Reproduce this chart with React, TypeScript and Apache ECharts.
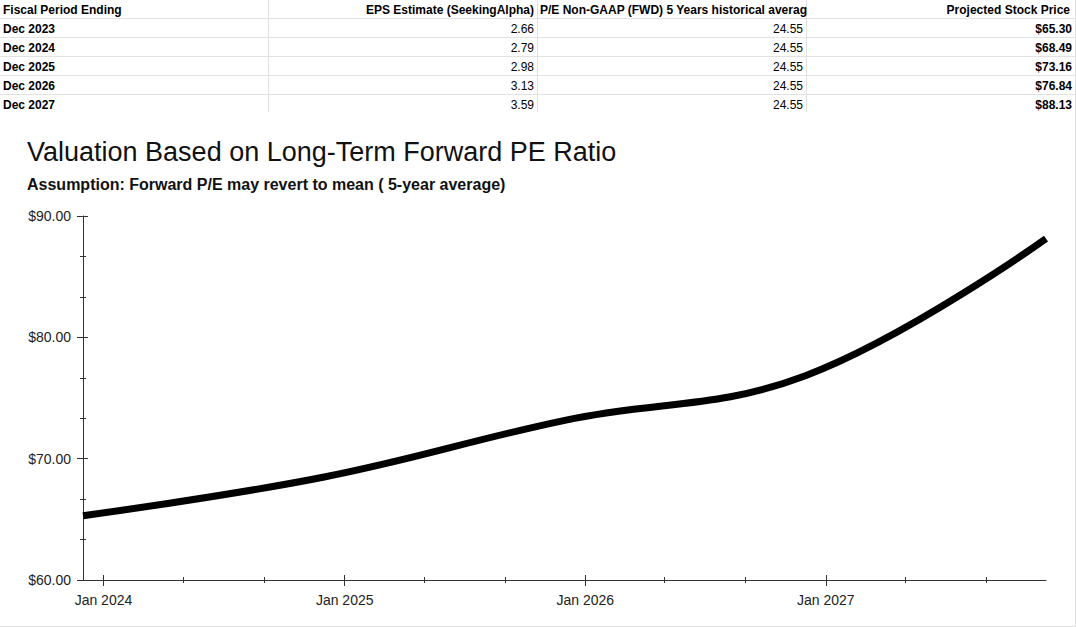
import React, { useEffect, useRef } from "react";
import * as echarts from "echarts";

const tableHeaders = [
  "Fiscal Period Ending",
  "EPS Estimate (SeekingAlpha)",
  "P/E Non-GAAP (FWD) 5 Years historical averag",
  "Projected Stock Price",
];
const periods = ["Dec 2023", "Dec 2024", "Dec 2025", "Dec 2026", "Dec 2027"];
const epsEstimates = [2.66, 2.79, 2.98, 3.13, 3.59];
const peAverages = [24.55, 24.55, 24.55, 24.55, 24.55];
const projectedPrices = [65.3, 68.49, 73.16, 76.84, 88.13];

const xMajorTicks = ["Jan 2024", "Jan 2025", "Jan 2026", "Jan 2027"];
const xMinorTicks = [
  "May 2024", "Sep 2024", "May 2025", "Sep 2025",
  "May 2026", "Sep 2026", "May 2027", "Sep 2027",
];
const yMin = 60;
const yMax = 90;
const yInterval = 10;

const chartTitle = "Valuation Based on Long-Term Forward PE Ratio";
const chartSubtitle = "Assumption: Forward P/E may revert to mean ( 5-year average)";

const MONTHS = ["Jan", "Feb", "Mar", "Apr", "May", "Jun", "Jul", "Aug", "Sep", "Oct", "Nov", "Dec"];
function toTime(label: string): number {
  const [m, y] = label.split(" ");
  return Date.UTC(Number(y), MONTHS.indexOf(m), 1);
}
function fmtTime(v: number): string {
  const d = new Date(v);
  return MONTHS[d.getUTCMonth()] + " " + d.getUTCFullYear();
}

const FONT = "'Liberation Sans', Arial, sans-serif";

export default function App() {
  const ref = useRef<HTMLDivElement>(null);
  useEffect(() => {
    document.body.style.margin = "0";
    const chart = echarts.init(ref.current!, null, { renderer: "svg", width: 1076, height: 627 });

    const tMin = toTime(periods[0]);
    const tMax = toTime(periods[periods.length - 1]);
    const majorVals = xMajorTicks.map(toTime);
    const minorVals = xMinorTicks.map(toTime);

    const colEdges = [0, 268.5, 537.5, 806.5, 1075.5];
    const rowH = 19;
    const graphics: any[] = [];
    for (let r = 1; r <= 5; r++) {
      const y = r * rowH - 0.5;
      graphics.push({ type: "line", shape: { x1: 0, y1: y, x2: 1076, y2: y }, style: { stroke: "#e2e2e2", lineWidth: 1 }, silent: true });
    }
    for (let c = 1; c < colEdges.length; c++) {
      graphics.push({ type: "line", shape: { x1: colEdges[c], y1: 0, x2: colEdges[c], y2: 627 }, style: { stroke: "#e0e0e0", lineWidth: 1 }, silent: true, z: -1 });
    }
    graphics.push({ type: "rect", shape: { x: 0, y: 112, width: 1075, height: 514 }, style: { fill: "#fff" }, silent: true, z: 0 });
    graphics.push({ type: "line", shape: { x1: 0, y1: 626.5, x2: 1076, y2: 626.5 }, style: { stroke: "#e0e0e0", lineWidth: 1 }, silent: true });

    const cellText = (text: string, x: number, y: number, align: string, bold: boolean) => ({
      type: "text",
      x,
      y,
      silent: true,
      z: -1,
      style: {
        text,
        font: (bold ? "bold " : "") + "12px " + FONT,
        fill: "#000",
        textAlign: align,
        textVerticalAlign: "middle",
      },
    });
    const rowCenter = (r: number) => r * rowH + 10;
    graphics.push(cellText(tableHeaders[0], 3, rowCenter(0), "left", true));
    graphics.push(cellText(tableHeaders[1], 534, rowCenter(0), "right", true));
    graphics.push(cellText(tableHeaders[2], 540, rowCenter(0), "left", true));
    graphics.push(cellText(tableHeaders[3], 1070, rowCenter(0), "right", true));
    periods.forEach((p, i) => {
      const y = rowCenter(i + 1);
      graphics.push(cellText(p, 3, y, "left", true));
      graphics.push(cellText(epsEstimates[i].toFixed(2), 534, y, "right", false));
      graphics.push(cellText(peAverages[i].toFixed(2), 803, y, "right", false));
      graphics.push(cellText("$" + projectedPrices[i].toFixed(2), 1072, y, "right", true));
    });

    graphics.push({
      type: "text", x: 27, y: 152, silent: true, z: 1,
      style: { text: chartTitle, font: "27px " + FONT, fill: "#111", textVerticalAlign: "middle" },
    });
    graphics.push({
      type: "text", x: 27, y: 184, silent: true, z: 1,
      style: { text: chartSubtitle, font: "bold 16px " + FONT, fill: "#111", textVerticalAlign: "middle" },
    });

    const axisLineStyle = { color: "#333", width: 1 };
    const baseX = {
      type: "value",
      min: tMin,
      max: tMax,
      position: "bottom",
      splitLine: { show: false },
      z: 3,
    };
    const baseY = {
      type: "value",
      min: yMin,
      max: yMax,
      interval: yInterval,
      position: "left",
      splitLine: { show: false },
      minorSplitLine: { show: false },
      z: 3,
    };

    const option: any = {
      animation: false,
      backgroundColor: "transparent",
      graphic: { elements: graphics },
      grid: { left: 83, right: 30, top: 216, bottom: 47, containLabel: false },
      xAxis: [
        {
          ...baseX,
          axisLine: { show: true, lineStyle: axisLineStyle },
          axisTick: { show: true, length: 6, customValues: majorVals, lineStyle: axisLineStyle },
          axisLabel: {
            show: true, customValues: majorVals, formatter: (v: number) => fmtTime(v),
            fontSize: 14, color: "#222", fontFamily: FONT, margin: 13,
          },
        },
        {
          ...baseX,
          axisLine: { show: false },
          axisTick: { show: true, inside: true, length: 5, customValues: majorVals, lineStyle: axisLineStyle },
          axisLabel: { show: false },
        },
        {
          ...baseX,
          axisLine: { show: false },
          axisTick: { show: true, length: 3, customValues: minorVals, lineStyle: axisLineStyle },
          axisLabel: { show: false },
        },
        {
          ...baseX,
          axisLine: { show: false },
          axisTick: { show: true, inside: true, length: 3, customValues: minorVals, lineStyle: axisLineStyle },
          axisLabel: { show: false },
        },
      ],
      yAxis: [
        {
          ...baseY,
          axisLine: { show: true, lineStyle: axisLineStyle },
          axisTick: { show: true, length: 6, lineStyle: axisLineStyle },
          minorTick: { show: true, splitNumber: 3, length: 3, lineStyle: axisLineStyle },
          axisLabel: {
            formatter: (v: number) => "$" + v.toFixed(2),
            fontSize: 14, color: "#222", fontFamily: FONT, margin: 12,
          },
        },
        {
          ...baseY,
          axisLine: { show: false },
          axisTick: { show: true, inside: true, length: 5, lineStyle: axisLineStyle },
          minorTick: { show: true, splitNumber: 3, length: 3, lineStyle: axisLineStyle },
          axisLabel: { show: false },
        },
      ],
      series: [
        {
          type: "line",
          xAxisIndex: 0,
          yAxisIndex: 0,
          data: periods.map((p, i) => [toTime(p), projectedPrices[i]]),
          smooth: 0.4,
          showSymbol: false,
          clip: false,
          lineStyle: { color: "#000", width: 7 },
          z: 4,
        },
      ],
    };
    chart.setOption(option);
    return () => chart.dispose();
  }, []);
  return (
    <div
      ref={ref}
      style={{ position: "absolute", left: 0, top: 0, width: 1076, height: 627, background: "#fff" }}
    />
  );
}
